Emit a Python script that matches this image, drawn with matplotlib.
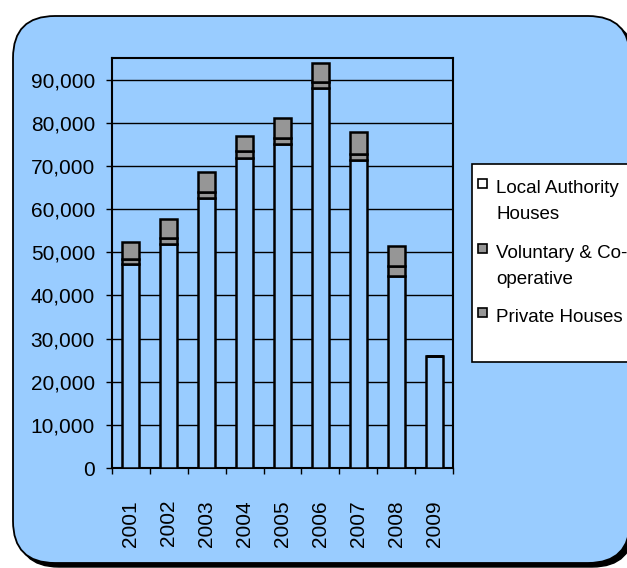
import matplotlib
matplotlib.use('Agg')
import matplotlib.pyplot as plt
import numpy as np
from matplotlib import font_manager
from matplotlib.patches import FancyBboxPatch, Rectangle
from matplotlib.ticker import MultipleLocator, FuncFormatter

years = ['2001', '2002', '2003', '2004', '2005', '2006', '2007', '2008', '2009']
# segments as stacked in the picture: bottom (clear), thin middle (grey), top (grey)
seg_bottom = [47330, 51970, 62480, 71860, 75100, 88100, 71390, 44390, 26060]
seg_middle = [1170, 1330, 1560, 1530, 1400, 1390, 1300, 2410, 0]
seg_top = [3870, 4400, 4640, 3640, 4640, 4250, 5200, 4710, 0]
legend_labels = ['Local Authority\nHouses', 'Voluntary & Co-\noperative', 'Private Houses']
legend_colors = ['white', '#969696', '#969696']

names = {f.name for f in font_manager.fontManager.ttflist}
if 'Liberation Sans Narrow' in names:
    fam, fs_tick, fs_leg = 'Liberation Sans Narrow', 17, 15.5
else:
    fam, fs_tick, fs_leg = 'Liberation Sans', 15, 13.5
plt.rcParams['font.family'] = fam

blue = '#99ccff'
grey = '#969696'

fig = plt.figure(figsize=(6.27, 5.68), dpi=100)

# background layer in pixel coordinates
bg = fig.add_axes([0, 0, 1, 1], zorder=-1)
bg.set_xlim(0, 627)
bg.set_ylim(568, 0)
bg.axis('off')
bg.add_patch(FancyBboxPatch((17, 20), 617, 547, boxstyle='round,pad=0,rounding_size=42',
                            facecolor='black', edgecolor='black'))
bg.add_patch(FancyBboxPatch((13, 16), 617, 547, boxstyle='round,pad=0,rounding_size=42',
                            facecolor=blue, edgecolor='black', lw=1.3))

# legend box, runs off the right edge like the original
bg.add_patch(Rectangle((472, 164), 170, 198, facecolor='white', edgecolor='black', lw=1.2))
baselines = [193, 257.5, 322]
for lab, col, base in zip(legend_labels, legend_colors, baselines):
    bg.add_patch(Rectangle((477.5, base - 14), 9, 9, facecolor=col, edgecolor='black', lw=1.2))
    for j, line in enumerate(lab.split('\n')):
        bg.text(496, base + j * 26, line, fontsize=fs_leg, va='baseline', ha='left')

# chart
ax = fig.add_axes([112 / 627, 100 / 568, 341 / 627, 410 / 568])
ax.patch.set_alpha(0)
x = np.arange(len(years))
w = 0.45
b1 = np.array(seg_bottom)
b2 = b1 + np.array(seg_middle)
ax.bar(x, seg_bottom, w, facecolor=blue, edgecolor='black', lw=1.8, zorder=3)
ax.bar(x, seg_middle, w, bottom=b1, facecolor=grey, edgecolor='black', lw=1.8, zorder=3)
ax.bar(x, seg_top, w, bottom=b2, facecolor=grey, edgecolor='black', lw=1.8, zorder=3)

ax.set_xlim(-0.5, len(years) - 0.5)
ax.set_ylim(0, 95000)
ax.yaxis.set_major_locator(MultipleLocator(10000))
ax.yaxis.set_major_formatter(FuncFormatter(lambda v, p: f'{v:,.0f}'))
ax.yaxis.grid(True, color='black', lw=1)
ax.set_axisbelow(True)
for s in ax.spines.values():
    s.set_linewidth(1.5)
    s.set_color('black')

ax.tick_params(axis='y', direction='out', length=4.3, width=1, pad=8, labelsize=fs_tick)
ax.set_xticks(x)
ax.set_xticklabels(years, rotation=90)
ax.set_xticks(np.arange(-0.5, len(years)), minor=True)
ax.tick_params(axis='x', which='major', length=0, pad=23, labelsize=fs_tick)
ax.tick_params(axis='x', which='minor', direction='out', length=4.3, width=1)

fig.savefig('out.png', dpi=100)
